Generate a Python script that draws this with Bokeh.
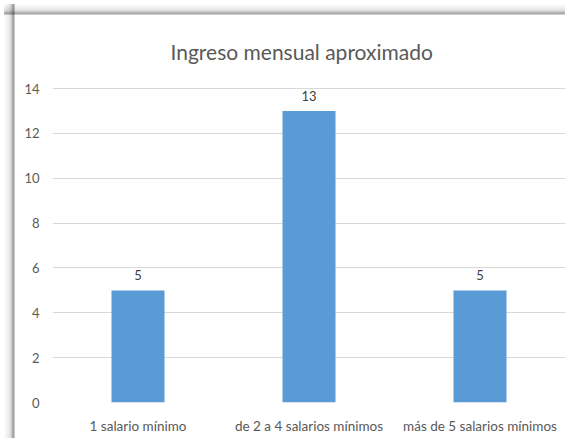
from bokeh.plotting import figure
from bokeh.models import ColumnDataSource, FactorRange, Range1d, FixedTicker, LabelSet
from bokeh.core.properties import value
from bokeh.embed import file_html
from bokeh.resources import INLINE

categories = ["1 salario mínimo", "de 2 a 4 salarios mínimos", "más de 5 salarios mínimos"]
values = [5, 13, 5]
y_ticks = [0, 2, 4, 6, 8, 10, 12, 14]
title_text = "Ingreso mensual aproximado"

FONT = "Lato"
W, H = 565, 438
source = ColumnDataSource(dict(cat=categories, val=values, lbl=[str(v) for v in values]))

p = figure(
    width=W, height=H,
    x_range=FactorRange(*categories, range_padding=0.0),
    y_range=Range1d(0, 14.05),
    output_backend="svg", toolbar_location=None,
    min_border_left=52, min_border_right=0, min_border_top=87, min_border_bottom=36,
)

# chart-box shadow along the top and left edges, drawn behind a transparent border area
p.border_fill_alpha = 0
p.styles = {
    "background-color": "white",
    "background-image": (
        "linear-gradient(to bottom, rgba(0,0,0,0) 0px, rgba(0,0,0,0.10) 6px, "
        "rgba(0,0,0,0.38) 10px, rgba(0,0,0,0) 11px), "
        "linear-gradient(to right, rgba(0,0,0,0) 0px, rgba(0,0,0,0.10) 6px, "
        "rgba(0,0,0,0.42) 10px, rgba(0,0,0,0) 11px)"
    ),
    "background-size": "calc(100% - 4px) 11px, 11px calc(100% - 4px)",
    "background-position": "4px 4px, 4px 4px",
    "background-repeat": "no-repeat",
}

p.vbar(x="cat", top="val", width=0.31, source=source, color="#5b9bd5", line_color=None)

labels = LabelSet(x="cat", y="val", text="lbl", source=source, y_offset=10,
                  text_align="center", text_baseline="bottom",
                  text_font=value(FONT), text_font_size="13px", text_color="#404040")
p.add_layout(labels)

p.title.text = title_text
p.title.align = "left"
p.title.text_font = FONT
p.title.text_font_size = "21px"
p.title.text_font_style = "normal"
p.title.text_color = "#595959"
p.title.offset = 118
p.title.standoff = 48

p.outline_line_color = None
p.xgrid.grid_line_color = None
p.ygrid.grid_line_color = "#d9d9d9"
p.ygrid.grid_line_width = 1

p.yaxis.ticker = FixedTicker(ticks=y_ticks)
for ax in (p.xaxis, p.yaxis):
    ax.axis_line_color = None
    ax.major_tick_line_color = None
    ax.minor_tick_line_color = None
    ax.major_tick_out = 0
    ax.major_tick_in = 0
    ax.major_label_text_font = FONT
    ax.major_label_text_font_size = "13.5px"
    ax.major_label_text_color = "#595959"
p.yaxis.major_label_text_font_size = "13px"
p.yaxis.major_label_standoff = 13
p.xaxis.major_label_standoff = 15

open("out.html", "w").write(file_html(p, INLINE))
